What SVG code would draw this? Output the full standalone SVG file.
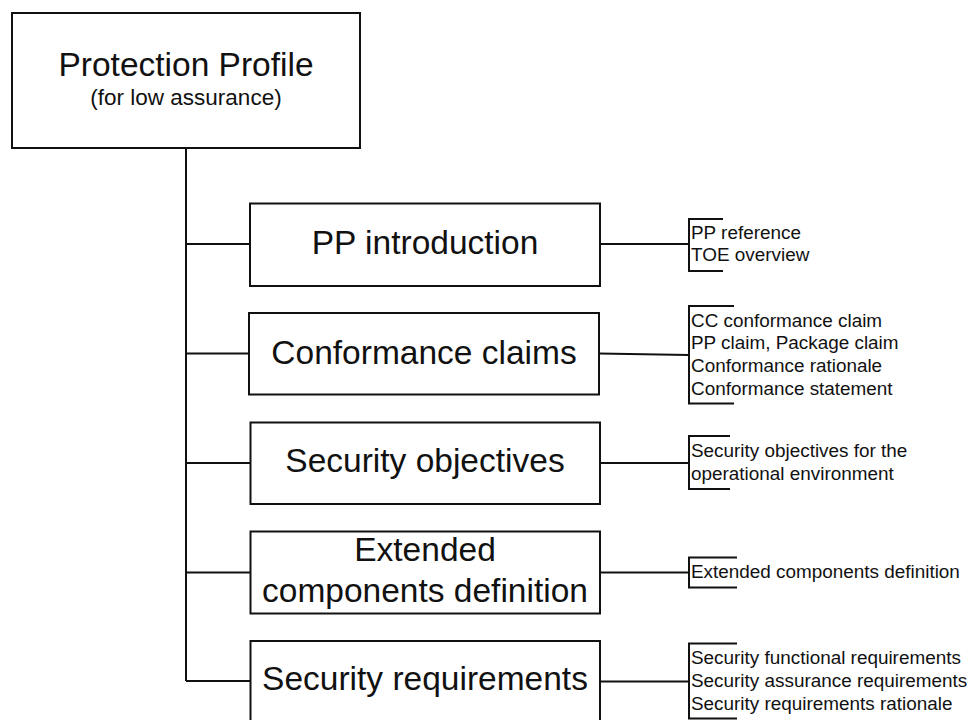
<svg xmlns="http://www.w3.org/2000/svg" width="976" height="720" viewBox="0 0 976 720">
<style>
.box{fill:#fff;stroke:#111;stroke-width:2}
.ln{fill:none;stroke:#111;stroke-width:2}
.big{font-family:"Liberation Sans",Arial,sans-serif;font-size:33.5px;fill:#111;text-anchor:middle}
.sub{font-family:"Liberation Sans",Arial,sans-serif;font-size:22.5px;fill:#111;text-anchor:middle}
.sm{font-family:"Liberation Sans",Arial,sans-serif;font-size:18.9px;fill:#111}
</style>
<rect width="976" height="720" fill="#fff"/>
<g id="connectors">
<path class="ln" d="M186 148 V681"/>
<path class="ln" d="M186 244 H250 M186 353.5 H249 M186 463 H250 M186 572.5 H250 M186 681 H250"/>
<path class="ln" d="M600 244 H689 M599 353.5 L689 355 M600 463 H689 M600 572.5 H689 M600 681.5 H689"/>
<path class="ln" d="M723 219 H689 V271 H723"/>
<path class="ln" d="M734 306 H689 V403.5 H734"/>
<path class="ln" d="M730 436 H689 V489 H730"/>
<path class="ln" d="M737 557.5 H689 V587.5 H737"/>
<path class="ln" d="M737 643.5 H689 V718.5 H737"/>
</g>
<g id="protection-profile">
<rect class="box" x="12" y="13" width="348" height="135"/>
<text class="big" x="186" y="76">Protection Profile</text>
<text class="sub" x="186" y="105">(for low assurance)</text>
</g>
<g id="pp-introduction">
<rect class="box" x="250" y="203.5" width="350" height="82.5"/>
<text class="big" x="425" y="254">PP introduction</text>
</g>
<g id="conformance-claims">
<rect class="box" x="249" y="313" width="350" height="81.5"/>
<text class="big" x="424" y="363.5">Conformance claims</text>
</g>
<g id="security-objectives">
<rect class="box" x="250.5" y="422.5" width="349.5" height="81.5"/>
<text class="big" x="425" y="471.5">Security objectives</text>
</g>
<g id="extended-components">
<rect class="box" x="250.5" y="531.5" width="349.5" height="82"/>
<text class="big" x="425" y="561">Extended</text>
<text class="big" x="425" y="601.5">components definition</text>
</g>
<g id="security-requirements">
<rect class="box" x="250.5" y="641" width="349.5" height="82"/>
<text class="big" x="425" y="690">Security requirements</text>
</g>
<g id="pp-introduction-items">
<text class="sm" x="691" y="238.5">PP reference</text>
<text class="sm" x="691" y="261">TOE overview</text>
</g>
<g id="conformance-claims-items">
<text class="sm" x="691" y="326.5">CC conformance claim</text>
<text class="sm" x="691" y="349">PP claim, Package claim</text>
<text class="sm" x="691" y="371.5">Conformance rationale</text>
<text class="sm" x="691" y="394.5">Conformance statement</text>
</g>
<g id="security-objectives-items">
<text class="sm" x="691" y="456.5">Security objectives for the</text>
<text class="sm" x="691" y="479.5">operational environment</text>
</g>
<g id="extended-components-items">
<text class="sm" x="691" y="577.5">Extended components definition</text>
</g>
<g id="security-requirements-items">
<text class="sm" x="691" y="664">Security functional requirements</text>
<text class="sm" x="691" y="686.5">Security assurance requirements</text>
<text class="sm" x="691" y="709.5">Security requirements rationale</text>
</g>
</svg>
